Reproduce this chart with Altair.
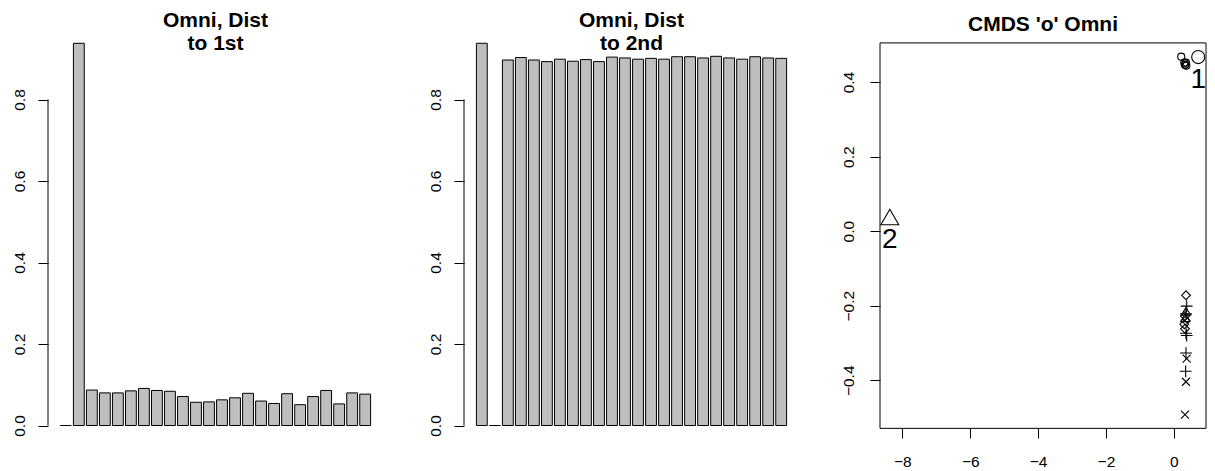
import altair as alt
import pandas as pd

FONT = "Liberation Sans"

# ---- data: bar panels ----
bar_index = list(range(1, 25))
dist_to_1st = [0.0, 0.938, 0.087, 0.080, 0.080, 0.085, 0.091, 0.086, 0.084, 0.071,
               0.057, 0.058, 0.063, 0.068, 0.079, 0.060, 0.054, 0.078, 0.051, 0.071,
               0.086, 0.053, 0.080, 0.077]
dist_to_2nd = [0.938, 0.0, 0.897, 0.903, 0.897, 0.893, 0.899, 0.894, 0.898, 0.893,
               0.904, 0.902, 0.899, 0.901, 0.899, 0.905, 0.905, 0.902, 0.906, 0.902,
               0.899, 0.905, 0.902, 0.901]
bar_y_ticks = [0.0, 0.2, 0.4, 0.6, 0.8]
bar_y_domain = [-0.0454, 0.9755]
title_1st = ["Omni, Dist\u00a0", "\u00a0to 1st"]
title_2nd = ["Omni, Dist\u00a0", "\u00a0to 2nd"]

# ---- data: CMDS panel ----
pt_kind = (["big_circle"] + ["circle"] * 6 + ["big_triangle"] + ["triangle"] * 2
           + ["diamond"] * 5 + ["plus"] * 6 + ["cross"] * 3)
pt_x = [0.72,
        0.22, 0.31, 0.34, 0.37, 0.36, 0.33,
        -8.37,
        0.36, 0.34,
        0.36, 0.33, 0.35, 0.31, 0.33,
        0.38, 0.36, 0.36, 0.38, 0.36, 0.35,
        0.38, 0.36, 0.33]
pt_y = [0.467,
        0.468, 0.452, 0.447, 0.444, 0.452, 0.446,
        0.038,
        -0.215, -0.232,
        -0.172, -0.228, -0.240, -0.250, -0.262,
        -0.201, -0.222, -0.274, -0.280, -0.327, -0.376,
        -0.342, -0.404, -0.492]
label_text = ["1", "2"]
label_x = [0.72, -8.37]
label_y = [0.467, 0.038]
cmds_x_ticks = [-8, -6, -4, -2, 0]
cmds_y_ticks = [-0.4, -0.2, 0.0, 0.2, 0.4]
cmds_box_x = [-8.66, 0.95]        # plot-box limits (x)
cmds_box_y = [-0.529, 0.505]      # plot-box limits (y)
cmds_y_domain = [-0.571, 0.545]   # full panel range
cmds_title = "CMDS 'o' Omni"

PLUS = "M-1,0L1,0M0,-1L0,1"
CROSS = "M-1,-1L1,1M-1,1L1,-1"
kind_style = {
    "big_circle": ("circle", 170),
    "circle": ("circle", 50),
    "big_triangle": ("triangle-up", 320),
    "triangle": ("triangle-up", 85),
    "diamond": ("diamond", 78),
    "plus": (PLUS, 140),
    "cross": (CROSS, 64),
}

PANEL_H = 416
TITLE_SIZE = 21


def bar_panel(values, title_lines):
    df = pd.DataFrame({"i": bar_index, "v": values})
    yaxis = alt.Axis(values=bar_y_ticks, format=".1f", labelAngle=-90, labelAlign="center",
                     labelBaseline="alphabetic", labelPadding=13.5, tickSize=10,
                     domain=False, grid=False, title=None)
    yscale = alt.Scale(domain=bar_y_domain, nice=False, zero=False)
    bars = alt.Chart(df).mark_bar(color="#BEBEBE", stroke="black", strokeWidth=1).encode(
        x=alt.X("i:O", axis=None,
                scale=alt.Scale(paddingInner=0.2 / 1.2, paddingOuter=0.953)),
        y=alt.Y("v:Q", scale=yscale, axis=yaxis),
    )
    line_df = pd.DataFrame({"lo": [min(bar_y_ticks)], "hi": [max(bar_y_ticks)]})
    axis_line = alt.Chart(line_df).mark_rule(color="black", strokeWidth=1).encode(
        x=alt.value(0),
        y=alt.Y("lo:Q", scale=yscale, axis=yaxis),
        y2="hi:Q",
    )
    return alt.layer(bars, axis_line).properties(
        width=335, height=PANEL_H,
        title=alt.TitleParams(text=title_lines, font=FONT, fontSize=TITLE_SIZE,
                              fontWeight="bold", color="black", anchor="middle",
                              frame="group", offset=-26.4, lineHeight=23),
    )


pts = pd.DataFrame({"x": pt_x, "y": pt_y, "kind": pt_kind})
labels = pd.DataFrame({"x": label_x, "y": label_y, "t": label_text})
box = pd.DataFrame({"x1": [cmds_box_x[0]], "x2": [cmds_box_x[1]],
                    "y1": [cmds_box_y[0]], "y2": [cmds_box_y[1]]})
xscale = alt.Scale(domain=cmds_box_x, nice=False, zero=False)
yscale_c = alt.Scale(domain=cmds_y_domain, nice=False, zero=False)
xaxis_c = alt.Axis(values=cmds_x_ticks, format="d", tickSize=10, labelPadding=16,
                   offset=-16, domain=False, grid=False, title=None)
yaxis_c = alt.Axis(values=cmds_y_ticks, format=".1f", labelAngle=-90, labelAlign="center",
                   labelBaseline="alphabetic", labelPadding=16.5, tickSize=10,
                   domain=False, grid=False, title=None)

layers = [
    alt.Chart(box).mark_rect(filled=False, stroke="black", strokeWidth=1).encode(
        x=alt.X("x1:Q", scale=xscale, axis=xaxis_c),
        x2="x2:Q",
        y=alt.Y("y1:Q", scale=yscale_c, axis=yaxis_c),
        y2="y2:Q",
    )
]
for kind, (shape, size) in kind_style.items():
    layers.append(
        alt.Chart(pts).transform_filter(alt.datum.kind == kind)
        .mark_point(shape=shape, size=size, filled=False, stroke="black", strokeWidth=1.1,
                    opacity=1)
        .encode(x=alt.X("x:Q", scale=xscale, axis=xaxis_c),
                y=alt.Y("y:Q", scale=yscale_c, axis=yaxis_c))
    )
layers.append(
    alt.Chart(labels).mark_text(font=FONT, fontSize=28, color="black", dy=31,
                                baseline="alphabetic", align="center")
    .encode(x=alt.X("x:Q", scale=xscale, axis=xaxis_c),
            y=alt.Y("y:Q", scale=yscale_c, axis=yaxis_c),
            text="t:N")
)
cmds = alt.layer(*layers).properties(
    width=326, height=PANEL_H,
    title=alt.TitleParams(text=cmds_title, font=FONT, fontSize=TITLE_SIZE, fontWeight="bold",
                          color="black", anchor="middle", frame="group", offset=-7),
)

chart = alt.hconcat(
    bar_panel(dist_to_1st, title_1st),
    bar_panel(dist_to_2nd, title_2nd),
    cmds,
    spacing=81, bounds="flush",
).properties(
    autosize=alt.AutoSizeParams(type="none"),
    padding={"left": 40, "top": 20, "right": 1159, "bottom": 443},
    background="white",
).configure_view(strokeWidth=0).configure_axis(
    labelFont=FONT, labelFontSize=15.5, labelColor="black", tickColor="black",
    tickWidth=1,
)

chart.save("out.html", embed_options={"renderer": "svg", "actions": False})
